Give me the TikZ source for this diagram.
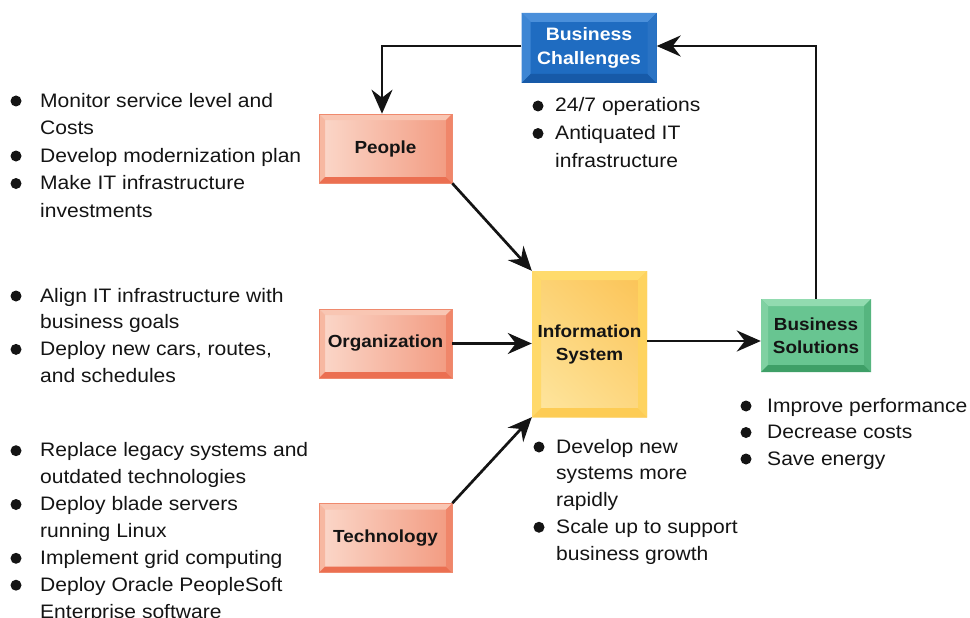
\documentclass[tikz,border=0pt]{standalone}
\usepackage{fontspec}
\setmainfont{Liberation Sans}[FakeStretch=1.08]
\usetikzlibrary{arrows.meta,shadings}
\definecolor{txtc}{HTML}{141414}
\definecolor{arrc}{HTML}{141414}
\definecolor{bluein}{HTML}{1F6CC1}
\definecolor{bluetop}{HTML}{4A8FDA}
\definecolor{blueleft}{HTML}{3D86D4}
\definecolor{bluebot}{HTML}{175AA8}
\definecolor{blueright}{HTML}{2A73C4}
\definecolor{salL}{HTML}{FBD8CA}
\definecolor{salR}{HTML}{F29A80}
\definecolor{saltop}{HTML}{F9C6B3}
\definecolor{salleft}{HTML}{F7B8A1}
\definecolor{salbot}{HTML}{EB6F51}
\definecolor{salright}{HTML}{F0866A}
\definecolor{salline}{HTML}{EF8A6E}
\definecolor{grin}{HTML}{68C591}
\definecolor{grtop}{HTML}{92DBB0}
\definecolor{grleft}{HTML}{80D1A2}
\definecolor{grbot}{HTML}{3E9F67}
\definecolor{grright}{HTML}{56B57F}
\definecolor{yUL}{HTML}{FCD273}
\definecolor{yUR}{HTML}{FBC254}
\definecolor{yLL}{HTML}{FEE7A2}
\definecolor{yLR}{HTML}{FDD780}
\definecolor{ytop}{HTML}{FFDB6C}
\definecolor{yleft}{HTML}{FFD96A}
\definecolor{ybot}{HTML}{FDCC55}
\definecolor{yright}{HTML}{FED35F}
\begin{document}
\begin{tikzpicture}[x=1pt,y=-1pt,
  txt/.style={anchor=base west, inner sep=0pt, font=\fontsize{19.5}{27}\selectfont, text=txtc},
  bul/.style={fill=txtc},
  arr/.style={draw=arrc, line width=2.7pt, -{Stealth[length=24pt,width=21pt,inset=8pt]}},
  boxtxt/.style={inner sep=0pt, align=center, font=\bfseries\fontsize{17.5}{23}\selectfont, text=txtc},
  bevel/.style n args={5}{path picture={
    \coordinate (bnw) at (path picture bounding box.north west);
    \coordinate (bne) at (path picture bounding box.north east);
    \coordinate (bsw) at (path picture bounding box.south west);
    \coordinate (bse) at (path picture bounding box.south east);
    \coordinate (inw) at ([shift={(#5pt,-#5pt)}]bnw);
    \coordinate (ine) at ([shift={(-#5pt,-#5pt)}]bne);
    \coordinate (isw) at ([shift={(#5pt,#5pt)}]bsw);
    \coordinate (ise) at ([shift={(-#5pt,#5pt)}]bse);
    \fill[#1] (bnw) -- (bne) -- (ine) -- (inw) -- cycle;
    \fill[#2] (bnw) -- (inw) -- (isw) -- (bsw) -- cycle;
    \fill[#3] (bsw) -- (bse) -- (ise) -- (isw) -- cycle;
    \fill[#4] (bne) -- (bse) -- (ise) -- (ine) -- cycle;
  }},
  salbox/.style={boxtxt, minimum width=133pt, minimum height=69pt,
    left color=salL, right color=salR, draw=salline, line width=0.6pt,
    bevel={saltop}{salleft}{salbot}{salright}{6}}
]
\useasboundingbox (0,0) rectangle (970,618);
\clip (0,0) rectangle (970,618);

% boxes
\node[boxtxt, minimum width=135pt, minimum height=70pt, fill=bluein, text=white,
      font=\bfseries\fontsize{18}{23.5}\selectfont,
      bevel={bluetop}{blueleft}{bluebot}{blueright}{9}] (chal) at (589,48) {Business\\Challenges};
\node[salbox] (people) at (385.5,148.5) {People};
\node[salbox] (org) at (385.5,343.5) {Organization};
\node[salbox] (tech) at (385.5,538) {Technology};
\node[boxtxt, minimum width=115pt, minimum height=146pt,
      upper left=yUL, upper right=yUR, lower left=yLL, lower right=yLR,
      bevel={ytop}{yleft}{ybot}{yright}{9}] (info) at (589.5,344) {Information\\System};
\node[boxtxt, minimum width=110pt, minimum height=73pt, fill=grin,
      bevel={grtop}{grleft}{grbot}{grright}{7}] (sol) at (816,335.5) {Business\\Solutions};

% connectors
\draw[arr] ([yshift=2pt]chal.west) -| ([xshift=-3.5pt]people.north);
\draw[arr] (sol.north) |- ([yshift=2pt]chal.east);
\draw[arr] (people.south east) -- (info.north west);
\draw[arr] (org.east) -- (org.east -| info.west);
\draw[arr] (tech.north east) -- (info.south west);
\draw[arr] ([yshift=3pt]info.east) coordinate (ia) -- (ia -| sol.west);

% left block 1
\foreach \t [count=\i] in {Monitor service level and, Costs, Develop modernization plan, Make IT infrastructure, investments}
  \node[txt] (pa\i) at (40,{107+27.5*(\i-1)}) {\t};
\foreach \i in {1,3,4} \fill[bul] (16,{101+27.5*(\i-1)}) circle (5.5pt);

% left block 2
\foreach \t [count=\i] in {Align IT infrastructure with, business goals, {Deploy new cars, routes,}, and schedules}
  \node[txt] (oa\i) at (40,{302+26.7*(\i-1)}) {\t};
\foreach \i in {1,3} \fill[bul] (16,{296+26.7*(\i-1)}) circle (5.5pt);

% left block 3
\foreach \t [count=\i] in {Replace legacy systems and, outdated technologies, Deploy blade servers, running Linux, Implement grid computing, Deploy Oracle PeopleSoft, Enterprise software}
  \node[txt] (ta\i) at (40,{456.7+26.9*(\i-1)}) {\t};
\foreach \i in {1,3,5,6} \fill[bul] (16,{450.7+26.9*(\i-1)}) circle (5.5pt);

% challenges bullets
\foreach \t [count=\i] in {24/7 operations, Antiquated IT, infrastructure}
  \node[txt] (ca\i) at (555,{112+27.5*(\i-1)}) {\t};
\foreach \i in {1,2} \fill[bul] (538,{106+27.5*(\i-1)}) circle (5.5pt);

% info bullets
\foreach \t [count=\i] in {Develop new, systems more, rapidly, Scale up to support, business growth}
  \node[txt] (ib\i) at (556,{453+26.75*(\i-1)}) {\t};
\foreach \i in {1,4} \fill[bul] (539,{447+26.75*(\i-1)}) circle (5.5pt);

% solutions bullets
\foreach \t [count=\i] in {Improve performance, Decrease costs, Save energy}
  \node[txt] (sb\i) at (767,{412+26.5*(\i-1)}) {\t};
\foreach \i in {1,2,3} \fill[bul] (746,{406+26.5*(\i-1)}) circle (5.5pt);
\end{tikzpicture}
\end{document}
